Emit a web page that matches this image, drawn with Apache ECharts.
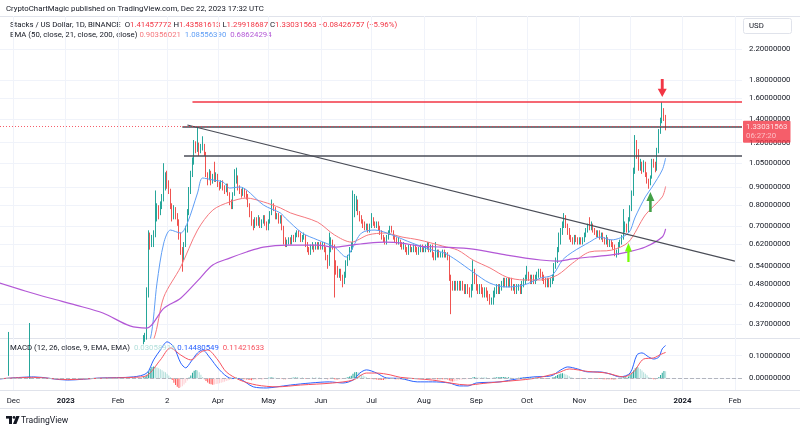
<!DOCTYPE html>
<html>
<head>
<meta charset="utf-8">
<script src="https://cdn.jsdelivr.net/npm/echarts@6.0.0/dist/echarts.min.js"></script>
<style>
html,body{margin:0;padding:0;background:#ffffff;}
#chart{width:800px;height:429px;}
</style>
</head>
<body>
<div id="chart"></div>
<script>
// ---------- DATA ----------
const startDate = '2022-11-22';          // day index 0
const firstOpen = 0.24;
const closes = [
0.245,0.252,0.26,0.255,0.262,0.27,0.275,0.255,0.26,0.258,
0.265,0.27,0.262,0.255,0.26,0.268,0.275,0.27,0.262,0.278,
0.27,0.262,0.255,0.245,0.24,0.245,0.24,0.232,0.23,0.238,
0.232,0.225,0.23,0.222,0.22,0.228,0.222,0.23,0.225,0.22,
0.228,0.235,0.24,0.248,0.252,0.26,0.27,0.28,0.29,0.3,
0.31,0.302,0.31,0.318,0.31,0.302,0.31,0.318,0.312,0.305,
0.31,0.302,0.295,0.3,0.31,0.302,0.31,0.3,0.292,0.3,
0.31,0.302,0.31,0.318,0.31,0.305,0.31,0.302,0.31,0.318,
0.312,0.318,0.325,0.32,0.328,0.33,0.335,0.34,0.45,0.65,
0.63,0.64,0.66,0.74,0.78,0.76,0.80,0.83,0.90,0.95,
0.92,0.88,0.80,0.74,0.78,0.75,0.72,0.66,0.60,0.57,
0.62,0.68,0.76,0.88,0.98,1.06,1.20,1.16,1.18,1.14,
1.17,1.18,1.12,0.98,0.95,0.99,0.93,0.96,0.94,0.97,
0.92,0.90,0.93,0.90,0.88,0.91,0.86,0.82,0.79,0.86,
0.93,0.96,0.90,0.88,0.86,0.88,0.86,0.85,0.80,0.76,
0.72,0.70,0.73,0.71,0.73,0.70,0.72,0.74,0.71,0.69,
0.72,0.76,0.80,0.78,0.74,0.75,0.72,0.74,0.69,0.64,
0.62,0.63,0.64,0.63,0.65,0.64,0.66,0.67,0.66,0.64,
0.65,0.66,0.62,0.60,0.59,0.61,0.62,0.60,0.62,0.61,
0.62,0.61,0.62,0.60,0.57,0.54,0.60,0.63,0.62,0.55,
0.53,0.51,0.52,0.50,0.49,0.51,0.55,0.57,0.60,0.61,
0.76,0.79,0.82,0.76,0.74,0.72,0.71,0.69,0.70,0.68,
0.70,0.73,0.71,0.70,0.71,0.69,0.67,0.65,0.64,0.63,
0.65,0.67,0.69,0.68,0.65,0.64,0.63,0.64,0.62,0.61,
0.62,0.60,0.59,0.61,0.60,0.60,0.61,0.60,0.59,0.60,
0.61,0.60,0.60,0.61,0.62,0.60,0.61,0.58,0.57,0.58,
0.59,0.58,0.58,0.59,0.58,0.58,0.57,0.50,0.48,0.47,
0.48,0.47,0.48,0.47,0.48,0.47,0.46,0.47,0.46,0.45,
0.47,0.51,0.50,0.47,0.46,0.47,0.46,0.45,0.46,0.45,
0.44,0.43,0.43,0.45,0.46,0.47,0.46,0.47,0.48,0.49,
0.48,0.49,0.48,0.49,0.47,0.47,0.46,0.47,0.47,0.46,
0.48,0.49,0.50,0.51,0.50,0.49,0.50,0.49,0.50,0.51,
0.52,0.51,0.50,0.49,0.48,0.49,0.48,0.49,0.50,0.54,
0.56,0.60,0.63,0.67,0.71,0.74,0.70,0.68,0.65,0.64,
0.63,0.65,0.64,0.63,0.64,0.63,0.64,0.66,0.68,0.70,
0.69,0.70,0.68,0.67,0.66,0.67,0.65,0.66,0.64,0.63,
0.65,0.62,0.63,0.62,0.61,0.58,0.59,0.62,0.63,0.65,
0.68,0.70,0.68,0.73,0.78,0.86,1.00,1.18,1.14,1.02,
1.04,1.00,1.05,0.98,0.94,0.92,0.96,1.07,1.04,1.01,
1.14,1.29,1.38,1.46,1.41457772,1.33031563];
const highs = [
0.255,0.26,0.268,0.265,0.27,0.278,0.352,0.278,0.268,0.266,
0.272,0.278,0.272,0.264,0.268,0.276,0.283,0.28,0.272,0.373,
0.28,0.272,0.264,0.256,0.25,0.252,0.25,0.242,0.238,0.245,
0.24,0.235,0.237,0.232,0.228,0.234,0.23,0.236,0.233,0.228,
0.234,0.24,0.246,0.254,0.258,0.266,0.276,0.286,0.296,0.306,
0.318,0.312,0.316,0.325,0.32,0.312,0.316,0.325,0.32,0.314,
0.316,0.312,0.304,0.306,0.316,0.312,0.316,0.31,0.302,0.306,
0.316,0.312,0.316,0.325,0.32,0.314,0.316,0.312,0.316,0.325,
0.32,0.325,0.332,0.328,0.334,0.338,0.345,0.35,0.47,0.68,
0.67,0.66,0.68,0.88,0.81,0.80,0.82,0.86,1.05,0.99,
1.00,0.94,0.89,0.81,0.80,0.79,0.76,0.73,0.67,0.61,
0.63,0.70,0.78,0.90,1.00,1.09,1.22,1.21,1.32,1.20,
1.19,1.25,1.19,1.13,0.99,1.01,1.00,0.98,1.06,0.99,
0.98,0.93,0.94,0.94,0.91,0.92,0.92,0.87,0.83,0.87,
1.01,1.02,0.97,0.91,0.89,0.90,0.89,0.88,0.86,0.81,
0.77,0.73,0.74,0.74,0.75,0.74,0.73,0.75,0.75,0.72,
0.73,0.77,0.83,0.81,0.79,0.76,0.76,0.75,0.75,0.70,
0.65,0.64,0.65,0.65,0.66,0.66,0.67,0.68,0.68,0.67,
0.66,0.67,0.66,0.63,0.61,0.62,0.63,0.62,0.63,0.63,
0.63,0.63,0.63,0.63,0.61,0.58,0.67,0.65,0.64,0.62,
0.56,0.54,0.53,0.53,0.51,0.52,0.56,0.58,0.61,0.63,
0.88,0.86,0.85,0.83,0.77,0.75,0.73,0.72,0.71,0.71,
0.71,0.76,0.74,0.72,0.72,0.72,0.70,0.68,0.66,0.65,
0.66,0.68,0.70,0.70,0.68,0.66,0.65,0.65,0.64,0.63,
0.63,0.62,0.61,0.62,0.62,0.61,0.62,0.62,0.61,0.61,
0.62,0.62,0.61,0.62,0.63,0.63,0.62,0.62,0.59,0.63,
0.60,0.60,0.59,0.60,0.60,0.59,0.59,0.58,0.51,0.49,
0.49,0.49,0.49,0.49,0.49,0.49,0.48,0.48,0.48,0.47,
0.48,0.56,0.53,0.51,0.48,0.48,0.48,0.47,0.47,0.47,
0.46,0.45,0.44,0.46,0.47,0.48,0.48,0.48,0.49,0.50,
0.50,0.50,0.50,0.50,0.50,0.48,0.48,0.48,0.48,0.48,
0.49,0.50,0.51,0.54,0.52,0.51,0.51,0.51,0.51,0.52,
0.53,0.53,0.52,0.51,0.50,0.50,0.50,0.50,0.51,0.55,
0.57,0.61,0.67,0.69,0.72,0.76,0.75,0.71,0.69,0.66,
0.65,0.66,0.66,0.65,0.65,0.65,0.65,0.67,0.69,0.71,
0.74,0.72,0.71,0.69,0.68,0.68,0.68,0.67,0.67,0.65,
0.66,0.65,0.64,0.64,0.63,0.62,0.60,0.63,0.64,0.66,
0.78,0.72,0.71,0.74,0.80,0.88,1.02,1.26,1.22,1.15,
1.08,1.06,1.07,1.06,0.99,0.95,0.97,1.08,1.08,1.06,
1.16,1.31,1.41,1.56,1.50,1.43581613];
const lows = [
0.238,0.243,0.25,0.248,0.254,0.26,0.265,0.248,0.252,0.25,
0.255,0.262,0.258,0.25,0.252,0.258,0.266,0.264,0.256,0.26,
0.265,0.256,0.248,0.24,0.234,0.238,0.234,0.228,0.225,0.228,
0.226,0.22,0.222,0.218,0.215,0.219,0.218,0.22,0.22,0.215,
0.218,0.226,0.232,0.238,0.245,0.25,0.258,0.268,0.278,0.288,
0.298,0.298,0.3,0.308,0.306,0.298,0.3,0.308,0.306,0.3,
0.302,0.298,0.29,0.292,0.298,0.298,0.3,0.296,0.288,0.29,
0.298,0.298,0.3,0.308,0.306,0.3,0.302,0.298,0.3,0.308,
0.305,0.308,0.315,0.315,0.318,0.324,0.325,0.33,0.335,0.44,
0.60,0.61,0.61,0.65,0.72,0.73,0.75,0.78,0.82,0.88,
0.89,0.86,0.78,0.72,0.73,0.73,0.70,0.64,0.58,0.52,
0.56,0.61,0.67,0.75,0.86,0.96,1.04,1.12,1.13,1.10,
1.12,1.14,1.10,0.96,0.91,0.94,0.91,0.92,0.93,0.93,
0.90,0.88,0.89,0.88,0.86,0.87,0.85,0.80,0.78,0.78,
0.85,0.92,0.88,0.86,0.84,0.85,0.84,0.83,0.79,0.74,
0.70,0.68,0.69,0.70,0.70,0.69,0.69,0.71,0.70,0.68,
0.68,0.71,0.75,0.77,0.73,0.73,0.71,0.71,0.68,0.62,
0.61,0.61,0.62,0.62,0.62,0.63,0.63,0.65,0.65,0.63,
0.63,0.64,0.61,0.59,0.58,0.58,0.60,0.59,0.60,0.60,
0.60,0.60,0.60,0.59,0.56,0.53,0.54,0.59,0.60,0.44,
0.51,0.50,0.50,0.49,0.47,0.48,0.50,0.54,0.56,0.59,
0.60,0.74,0.77,0.75,0.72,0.71,0.69,0.68,0.68,0.67,
0.67,0.69,0.70,0.69,0.69,0.68,0.66,0.64,0.63,0.62,
0.62,0.64,0.66,0.67,0.64,0.63,0.62,0.62,0.61,0.60,
0.60,0.59,0.58,0.58,0.59,0.59,0.59,0.59,0.58,0.58,
0.59,0.59,0.59,0.59,0.60,0.59,0.59,0.57,0.56,0.56,
0.57,0.57,0.57,0.57,0.57,0.57,0.56,0.49,0.395,0.46,
0.46,0.46,0.46,0.46,0.46,0.46,0.45,0.45,0.45,0.44,
0.44,0.46,0.48,0.46,0.45,0.45,0.45,0.44,0.44,0.44,
0.43,0.42,0.42,0.42,0.44,0.45,0.45,0.45,0.46,0.47,
0.47,0.47,0.47,0.47,0.46,0.46,0.45,0.45,0.46,0.45,
0.45,0.47,0.48,0.49,0.49,0.48,0.48,0.48,0.48,0.49,
0.50,0.50,0.49,0.48,0.47,0.47,0.47,0.47,0.48,0.49,
0.53,0.55,0.59,0.62,0.66,0.69,0.69,0.66,0.64,0.63,
0.62,0.62,0.63,0.62,0.62,0.62,0.62,0.63,0.65,0.67,
0.68,0.68,0.67,0.66,0.65,0.65,0.64,0.64,0.63,0.62,
0.62,0.61,0.61,0.61,0.60,0.575,0.57,0.58,0.61,0.62,
0.64,0.67,0.67,0.67,0.72,0.77,0.85,0.98,1.08,1.00,
1.00,0.98,0.99,0.96,0.92,0.89,0.91,0.95,1.02,0.99,
1.00,1.12,1.27,1.36,1.38,1.29918687];

// EMA readings: [day index, value]
const ema21 = [[40,0.23],[70,0.30],[85,0.315],[90,0.335],[94,0.483],[98,0.626],[102,0.681],[108,0.668],[112,0.713],[118,0.866],[121,0.954],[127,0.942],[133,0.930],[137,0.894],[143,0.900],[147,0.883],[157,0.801],[167,0.761],[170,0.736],[180,0.668],[189,0.639],[199,0.610],[206,0.572],[209,0.598],[215,0.668],[223,0.681],[233,0.660],[245,0.626],[257,0.598],[264,0.587],[271,0.561],[281,0.519],[291,0.483],[301,0.471],[311,0.477],[321,0.499],[328,0.509],[334,0.561],[340,0.591],[350,0.630],[356,0.651],[363,0.639],[373,0.668],[377,0.741],[383,0.844],[387,0.900],[393,1.005],[395,1.08556390]];
const ema50 = [[40,0.27],[70,0.29],[85,0.305],[92,0.335],[98,0.441],[108,0.536],[118,0.681],[127,0.775],[137,0.817],[147,0.838],[157,0.817],[167,0.786],[173,0.761],[189,0.717],[199,0.660],[209,0.630],[219,0.660],[229,0.668],[239,0.651],[249,0.639],[263,0.614],[272,0.598],[281,0.561],[291,0.533],[301,0.502],[311,0.493],[321,0.493],[331,0.509],[340,0.550],[350,0.591],[363,0.598],[373,0.630],[383,0.751],[393,0.844],[395,0.90356021]];
const ema200 = [[1,0.483],[16,0.459],[31,0.438],[46,0.419],[62,0.398],[78,0.366],[88,0.361],[98,0.41],[108,0.438],[118,0.49],[127,0.543],[137,0.568],[147,0.591],[157,0.610],[171,0.618],[189,0.618],[199,0.610],[209,0.618],[219,0.626],[229,0.630],[239,0.626],[249,0.614],[263,0.610],[281,0.602],[301,0.579],[321,0.561],[331,0.557],[340,0.565],[350,0.572],[362,0.579],[373,0.591],[383,0.610],[393,0.651],[395,0.68624294]];

// MACD (12, 26, 9) readings: [day index, value]
const macdLine = [[1,-0.003],[21,0.006],[41,-0.008],[60,0.001],[80,0.006],[88,0.023],[92,0.081],[96,0.125],[100,0.161],[104,0.138],[108,0.068],[111,0.046],[114,0.072],[118,0.112],[121,0.125],[125,0.094],[131,0.037],[137,0.001],[143,-0.003],[151,-0.038],[159,-0.043],[165,-0.038],[173,-0.030],[185,-0.021],[196,-0.016],[204,-0.021],[210,-0.008],[214,0.023],[218,0.037],[224,0.023],[230,0.001],[238,-0.001],[248,-0.016],[257,-0.016],[267,-0.021],[273,-0.034],[278,-0.034],[283,-0.021],[297,-0.016],[307,-0.003],[317,0.006],[327,0.010],[333,0.037],[337,0.050],[343,0.041],[349,0.028],[356,0.028],[362,0.019],[368,0.006],[374,0.023],[378,0.103],[381,0.112],[385,0.094],[388,0.085],[391,0.094],[393,0.130],[395,0.14480549]];
const signalLine = [[1,-0.002],[21,0.004],[41,-0.006],[60,0.0],[80,0.004],[88,0.012],[96,0.081],[102,0.134],[108,0.103],[114,0.081],[120,0.116],[124,0.125],[130,0.081],[135,0.028],[143,-0.008],[153,-0.030],[165,-0.038],[179,-0.030],[198,-0.021],[210,-0.008],[218,0.023],[224,0.023],[232,0.015],[238,0.004],[257,-0.008],[278,-0.030],[287,-0.023],[297,-0.016],[317,-0.001],[331,0.023],[338,0.041],[349,0.030],[360,0.023],[370,0.006],[376,0.028],[382,0.085],[388,0.090],[392,0.105],[395,0.11421633]];
const macdHist = [[86,0.004],[87,0.008],[88,0.015],[89,0.03],[90,0.042],[91,0.05],[92,0.052],[93,0.05],[94,0.047],[95,0.044],[96,0.04],[97,0.035],[98,0.03],[99,0.026],[100,0.02],[101,0.012],[102,0.004],
[103,-0.008],[104,-0.02],[105,-0.03],[106,-0.038],[107,-0.043],[108,-0.04],[109,-0.035],[110,-0.028],[111,-0.02],[112,-0.01],
[113,0.003],[114,0.012],[115,0.024],[116,0.033],[117,0.037],[118,0.034],[119,0.026],[120,0.016],[121,0.006],
[122,-0.005],[123,-0.012],[124,-0.019],[125,-0.024],[126,-0.027],[127,-0.029],[128,-0.028],[129,-0.026],[130,-0.024],[131,-0.022],[132,-0.02],[133,-0.018],[134,-0.015],[135,-0.012],[136,-0.01],[137,-0.008],[138,-0.006],[139,-0.004],[140,0.002],[141,0.003],[142,-0.002],[143,-0.003],[144,-0.004],[145,-0.004],[146,-0.005],[147,-0.006],[148,-0.007],[149,-0.008],[150,-0.009],[151,-0.008],[152,-0.007],[153,-0.006],[154,-0.005],[155,-0.004],[156,-0.004],[157,-0.003],[158,-0.003],[159,-0.002],[160,0.002],[161,0.003],[162,0.004],[163,0.003],[164,0.002],
[166,-0.002],[168,-0.003],[169,-0.004],[170,-0.004],[171,-0.003],[172,-0.002],[174,0.002],[175,0.003],[176,0.003],[177,0.003],[178,0.002],[180,0.002],[182,-0.002],[183,-0.003],[184,-0.002],[186,0.002],[188,0.002],[190,0.002],[194,-0.003],[195,-0.005],[196,-0.002],[197,0.002],[198,0.002],[199,-0.004],[200,-0.006],[201,-0.006],[202,-0.005],[203,-0.004],[204,-0.003],[206,0.002],[207,0.005],[208,0.008],[209,0.011],[210,0.02],[211,0.026],[212,0.028],[213,0.026],[214,0.022],[215,0.017],[216,0.012],[217,0.008],[218,0.004],
[220,-0.002],[221,-0.002],[222,-0.004],[223,-0.005],[224,-0.006],[225,-0.007],[226,-0.008],[227,-0.008],[228,-0.008],[229,-0.007],[230,-0.005],[231,-0.003],[232,-0.002],[234,-0.003],[235,-0.004],[236,-0.004],[237,-0.004],[238,-0.005],[239,-0.005],[240,-0.004],[241,-0.004],[242,-0.004],[243,-0.003],[244,-0.003],[245,-0.002],[246,-0.002],[248,-0.002],
[256,-0.002],[257,-0.003],[258,-0.004],[259,-0.004],[260,-0.004],[261,-0.004],[262,-0.004],[263,-0.004],[264,-0.004],[265,-0.005],[266,-0.006],[267,-0.01],[268,-0.013],[269,-0.014],[270,-0.013],[271,-0.012],[272,-0.01],[273,-0.008],[274,-0.007],[275,-0.006],[276,-0.005],[277,-0.004],[278,-0.003],[279,-0.002],
[281,0.004],[282,0.005],[283,0.004],[284,0.003],[285,0.002],[286,0.002],[287,0.002],[288,0.002],[289,0.002],[293,0.002],[294,0.003],[295,0.004],[296,0.004],[297,0.005],[298,0.005],[299,0.005],[300,0.005],[301,0.004],[302,0.004],[303,0.003],[304,0.002],[308,0.002],[309,0.002],[310,0.002],[311,0.003],[312,0.003],[313,0.004],[314,0.003],[315,0.003],[316,0.002],[317,0.002],[318,0.002],[319,0.002],[320,0.002],
[323,-0.002],[324,-0.002],[325,-0.002],[328,0.003],[329,0.006],[330,0.01],[331,0.014],[332,0.018],[333,0.021],[334,0.022],[335,0.02],[336,0.017],[337,0.013],[338,0.009],[339,0.005],[340,0.002],
[342,-0.002],[343,-0.003],[344,-0.003],[345,-0.003],[346,-0.002],[347,-0.002],[352,-0.002],[353,-0.003],[354,-0.003],[355,-0.003],[356,-0.003],[357,-0.003],[358,-0.004],[359,-0.004],[360,-0.004],[361,-0.004],[362,-0.005],[363,-0.005],[364,-0.006],[365,-0.006],[366,-0.005],[367,-0.003],
[369,0.002],[370,0.004],[371,0.005],[372,0.004],[373,0.008],[374,0.014],[375,0.024],[376,0.034],[377,0.044],[378,0.05],[379,0.047],[380,0.041],[381,0.034],[382,0.027],[383,0.02],[384,0.013],[385,0.006],[386,0.002],
[387,-0.002],[388,-0.004],[389,-0.005],[390,-0.002],[391,0.006],[392,0.014],[393,0.024],[394,0.032],[395,0.03058916]];

const priceTicks = [0.37,0.42,0.48,0.54,0.62,0.7,0.8,0.9,1.05,1.2,1.4,1.6,1.8,2.2];
const macdTicks = [0, 0.1];
const timeTickDates = ['2022-12-01','2023-01-01','2023-02-01','2023-03-02','2023-04-01','2023-05-01','2023-06-01','2023-07-01','2023-08-01','2023-09-01','2023-10-01','2023-11-01','2023-12-01','2024-01-01','2024-02-01'];
const timeTickLabels = ['Dec','2023','Feb','2','Apr','May','Jun','Jul','Aug','Sep','Oct','Nov','Dec','2024','Feb'];

// drawings
const resistanceLine = ['2023-03-17', 1.565];
const upperLevel = ['2023-03-11', 1.327];
const lowerLevel = ['2023-03-12', 1.102];
const trendLine = [['2023-03-14', 1.345], ['2024-02-01', 0.557]];
const arrowMarks = [['2023-12-20', 1.71, 'down'], ['2023-12-13', 0.817, 'up'], ['2023-11-30', 0.589, 'up']];
const lastPrice = 1.33031563;
const countdown = '06:27:20';
const viewDays = [1.1, 440.2];
const priceRange = [0.3385, 2.724];
const macdRange = [-0.052, 0.178];

// ---------- BUILD ----------
const FONT = "Roboto, 'Liberation Sans', Arial, sans-serif";
const FS = 7.8;
const TXT = '#131722';
const GRIDC = '#f0f3fa';
const UP = '#26a69a', DOWN = '#ef5350';
const C21 = '#5f9ef5', C50 = '#f5787e', C200 = '#b358d6';
const CMACD = '#2962ff', CSIG = '#f7525f';

const t0 = Date.parse(startDate);
const dayOf = s => (Date.parse(s) - t0) / 86400000;
const tickDays = timeTickDates.map(dayOf);
const xEnd = viewDays[1];

const candles = closes.map((c, i) => [i, i === 0 ? firstOpen : closes[i - 1], c, lows[i], highs[i]]);

const histData = macdHist.map((p, i) => {
  const prev = i > 0 ? macdHist[i - 1][1] : 0;
  const v = p[1];
  const col = v >= 0 ? (v >= prev ? '#26a69a' : '#b2dfdb') : (v <= prev ? '#ff5252' : '#ffcdd2');
  return { value: p, itemStyle: { color: col } };
});

const upPath = 'path://M5,0L10,9L6.6,9L6.6,20L3.4,20L3.4,9L0,9Z';
const downPath = 'path://M3.4,0L6.6,0L6.6,11L10,11L5,20L0,11L3.4,11Z';
const arrowColors = ['#f23645', '#43a047', '#76ff03'];
const arrowSizes = [[9, 18], [8, 20], [7, 19]];

const seg = (a, b, style) => [{ coord: a, lineStyle: style }, { coord: b }];

const chart = echarts.init(document.getElementById('chart'), null, { renderer: 'canvas' });

const xBase = {
  type: 'value', min: viewDays[0], max: viewDays[1],
  axisLine: { show: false },
  axisTick: { show: false, customValues: tickDays },
  splitLine: { show: true, lineStyle: { color: GRIDC, width: 1 } }
};

const option = {
  animation: false,
  backgroundColor: '#ffffff',
  textStyle: { fontFamily: FONT },
  grid: [
    { left: 0, top: 16, width: 742, height: 322 },
    { left: 0, top: 338, width: 742, height: 52 }
  ],
  xAxis: [
    Object.assign({}, xBase, { gridIndex: 0, axisLabel: { show: false, customValues: tickDays } }),
    Object.assign({}, xBase, {
      gridIndex: 1,
      axisLabel: {
        show: true, customValues: tickDays, margin: 7, fontSize: FS, color: TXT, fontFamily: FONT,
        formatter: v => {
          const k = tickDays.indexOf(v);
          const s = k >= 0 ? timeTickLabels[k] : '';
          return /^\d{4}$/.test(s) ? '{b|' + s + '}' : s;
        },
        rich: { b: { fontWeight: 'bold', fontSize: FS, color: TXT, fontFamily: FONT } }
      }
    })
  ],
  yAxis: [
    {
      gridIndex: 0, type: 'log', logBase: 10, position: 'right',
      min: priceRange[0], max: priceRange[1],
      axisLine: { show: false },
      axisTick: { show: false, customValues: priceTicks },
      axisLabel: { customValues: priceTicks, formatter: v => Number(v).toFixed(8), fontSize: FS, color: TXT, margin: 7, fontFamily: FONT },
      splitLine: { show: true, lineStyle: { color: GRIDC } }
    },
    {
      gridIndex: 1, type: 'value', position: 'right',
      min: macdRange[0], max: macdRange[1],
      axisLine: { show: false },
      axisTick: { show: false, customValues: macdTicks },
      axisLabel: { customValues: macdTicks, formatter: v => Number(v).toFixed(8), fontSize: FS, color: TXT, margin: 7, fontFamily: FONT },
      splitLine: { show: true, lineStyle: { color: GRIDC } }
    }
  ],
  series: [
    {
      type: 'candlestick', xAxisIndex: 0, yAxisIndex: 0,
      data: candles, encode: { x: 0, y: [1, 2, 3, 4] },
      barWidth: 1, clip: true,
      itemStyle: { color: UP, color0: DOWN, borderColor: UP, borderColor0: DOWN, borderWidth: 1 },
      markLine: {
        silent: true, symbol: ['none', 'none'], animation: false,
        label: { show: false },
        emphasis: { disabled: true },
        data: [
          seg([dayOf(trendLine[0][0]), trendLine[0][1]], [dayOf(trendLine[1][0]), trendLine[1][1]], { color: '#4a4d57', width: 1.1, type: 'solid' }),
          seg([dayOf(upperLevel[0]), upperLevel[1]], [xEnd, upperLevel[1]], { color: '#4a4d57', width: 1.6, type: 'solid' }),
          seg([dayOf(lowerLevel[0]), lowerLevel[1]], [xEnd, lowerLevel[1]], { color: '#4a4d57', width: 1.6, type: 'solid' }),
          seg([dayOf(resistanceLine[0]), resistanceLine[1]], [xEnd, resistanceLine[1]], { color: '#f23645', width: 1.6, type: 'solid' }),
          {
            yAxis: lastPrice,
            lineStyle: { color: '#f23645', width: 1, type: [1, 2], opacity: 0.8 },
            label: {
              show: true, position: 'end', distance: 1, offset: [0, 5],
              formatter: '{p|' + lastPrice.toFixed(8) + '}\n{t|' + countdown + '}',
              backgroundColor: '#f23645', padding: [2, 3, 2, 3], borderRadius: 1,
              rich: {
                p: { color: '#ffffff', fontSize: FS, lineHeight: 9, fontFamily: FONT },
                t: { color: '#ffd5d9', fontSize: FS, lineHeight: 9, fontFamily: FONT }
              }
            }
          }
        ]
      },
      markPoint: {
        silent: true, animation: false, label: { show: false },
        data: arrowMarks.map((a, i) => ({
          coord: [dayOf(a[0]), a[1]],
          symbol: a[2] === 'up' ? upPath : downPath,
          symbolSize: arrowSizes[i],
          itemStyle: { color: arrowColors[i] }
        }))
      }
    },
    { type: 'line', name: 'EMA50', xAxisIndex: 0, yAxisIndex: 0, data: ema50, showSymbol: false, smooth: 0.3, clip: true, lineStyle: { color: C50, width: 1 } },
    { type: 'line', name: 'EMA21', xAxisIndex: 0, yAxisIndex: 0, data: ema21, showSymbol: false, smooth: 0.3, clip: true, lineStyle: { color: C21, width: 1 } },
    { type: 'line', name: 'EMA200', xAxisIndex: 0, yAxisIndex: 0, data: ema200, showSymbol: false, smooth: 0.3, clip: true, lineStyle: { color: C200, width: 1.2 } },
    { type: 'bar', name: 'Histogram', xAxisIndex: 1, yAxisIndex: 1, data: histData, barWidth: 1 },
    {
      type: 'line', name: 'MACD', xAxisIndex: 1, yAxisIndex: 1, data: macdLine, showSymbol: false, smooth: 0.3, lineStyle: { color: CMACD, width: 1 },
      markLine: { silent: true, symbol: ['none', 'none'], label: { show: false }, lineStyle: { color: '#b2b5be', type: 'dashed', width: 1 }, data: [{ yAxis: 0 }] }
    },
    { type: 'line', name: 'Signal', xAxisIndex: 1, yAxisIndex: 1, data: signalLine, showSymbol: false, smooth: 0.3, lineStyle: { color: CSIG, width: 1 } }
  ],
  graphic: [
    { type: 'line', shape: { x1: 0, y1: 16.5, x2: 800, y2: 16.5 }, style: { stroke: '#e0e3eb', lineWidth: 1 }, silent: true },
    { type: 'line', shape: { x1: 0, y1: 338.5, x2: 800, y2: 338.5 }, style: { stroke: '#e0e3eb', lineWidth: 1 }, silent: true },
    { type: 'line', shape: { x1: 0, y1: 390.5, x2: 800, y2: 390.5 }, style: { stroke: '#e0e3eb', lineWidth: 1 }, silent: true },
    { type: 'line', shape: { x1: 0, y1: 408.5, x2: 800, y2: 408.5 }, style: { stroke: '#e0e3eb', lineWidth: 1 }, silent: true },
    { type: 'text', x: 6, y: 9, silent: true, style: { text: 'CryptoChartMagic published on TradingView.com, Dec 22, 2023 17:32 UTC', fill: TXT, fontSize: FS, fontFamily: FONT, verticalAlign: 'middle' } },
    { type: 'text', x: 10, y: 25, silent: true, style: {
      text: '{a|Stacks / US Dollar, 1D, BINANCE}  {a|O}{r|1.41457772} {a|H}{r|1.43581613} {a|L}{r|1.29918687} {a|C}{r|1.33031563} {r|\u22120.08426757 (\u22125.96%)}',
      fontSize: FS, fontFamily: FONT, verticalAlign: 'middle',
      rich: { a: { fill: TXT, fontSize: FS, fontFamily: FONT }, r: { fill: '#f23645', fontSize: FS, fontFamily: FONT } } } },
    { type: 'text', x: 10, y: 35, silent: true, style: {
      text: '{a|EMA (50, close, 21, close, 200, close)} {e|0.90356021}  {b|1.08556390}  {p|0.68624294}',
      fontSize: FS, fontFamily: FONT, verticalAlign: 'middle',
      rich: { a: { fill: TXT, fontSize: FS, fontFamily: FONT }, e: { fill: C50, fontSize: FS, fontFamily: FONT }, b: { fill: C21, fontSize: FS, fontFamily: FONT }, p: { fill: C200, fontSize: FS, fontFamily: FONT } } } },
    { type: 'text', x: 10, y: 348, silent: true, z: 10, style: {
      text: '{a|MACD (12, 26, close, 9, EMA, EMA)}  {h|0.03058916} {b|0.14480549}  {s|0.11421633}',
      fontSize: FS, fontFamily: FONT, verticalAlign: 'middle',
      rich: { a: { fill: TXT, fontSize: FS, fontFamily: FONT }, h: { fill: '#b2dfdb', fontSize: FS, fontFamily: FONT }, b: { fill: CMACD, fontSize: FS, fontFamily: FONT }, s: { fill: CSIG, fontSize: FS, fontFamily: FONT } } } },
    { type: 'rect', shape: { x: 743.5, y: 18.5, width: 48, height: 15, r: 2 }, style: { fill: '#ffffff', stroke: '#e0e3eb', lineWidth: 1 }, silent: true },
    { type: 'text', x: 749, y: 26, silent: true, style: { text: 'USD', fill: TXT, fontSize: FS, fontFamily: FONT, verticalAlign: 'middle' } },
    { type: 'group', silent: true, children: [
      { type: 'rect', shape: { x: 6, y: 416, width: 6, height: 2.6 }, style: { fill: TXT } },
      { type: 'rect', shape: { x: 9, y: 416, width: 3, height: 8 }, style: { fill: TXT } },
      { type: 'circle', shape: { cx: 14, cy: 417.4, r: 1.4 }, style: { fill: TXT } },
      { type: 'polygon', shape: { points: [[16.2, 416], [19.6, 416], [16.4, 424], [13, 424]] }, style: { fill: TXT } }
    ] },
    { type: 'text', x: 21, y: 420.5, silent: true, style: { text: 'TradingView', fill: TXT, fontSize: 8.6, fontFamily: FONT, verticalAlign: 'middle' } }
  ]
};

chart.setOption(option);
</script>
</body>
</html>
